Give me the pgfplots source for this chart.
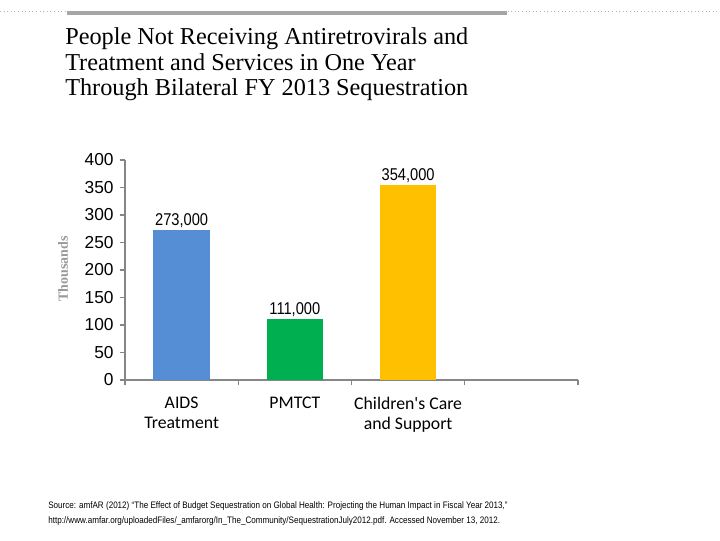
\documentclass[border=0pt]{standalone}
\usepackage{pgfplots}
\pgfplotsset{compat=1.18}
\usepackage{fontspec}
\setmainfont{Liberation Sans}
\newfontfamily\titlefont{Liberation Serif}
\newfontfamily\catfont{Carlito}
\newfontfamily\narrowfont[FakeStretch=0.86]{Liberation Sans}
\definecolor{barblue}{HTML}{558ED5}
\definecolor{bargreen}{HTML}{00B050}
\definecolor{bargold}{HTML}{FFC000}
\definecolor{axisgray}{HTML}{868686}
\begin{document}
\begin{tikzpicture}[x=0.75pt,y=0.75pt]
\path[use as bounding box] (0,0) rectangle (720,540);
\draw[black!30, dotted, line width=0.7pt] (0,528.5) -- (720,528.5);
\fill[black!35] (67,525) rectangle (507,529);
\node[anchor=base west, font=\titlefont\fontsize{18.2}{20}\selectfont, inner sep=0] at (65,495) {People Not Receiving Antiretrovirals and};
\node[anchor=base west, font=\titlefont\fontsize{18.2}{20}\selectfont, inner sep=0] at (65,469.5) {Treatment and Services in One Year};
\node[anchor=base west, font=\titlefont\fontsize{18.2}{20}\selectfont, inner sep=0] at (65,444) {Through Bilateral FY 2013 Sequestration};
\node[rotate=90, font=\titlefont\bfseries\fontsize{10.5}{12}\selectfont, text=black!40] at (63,271) {Thousands};
\begin{axis}[
  at={(93.75pt,120pt)}, anchor=south west,
  scale only axis, width=339.75pt, height=165pt,
  xmin=0, xmax=4, ymin=0, ymax=400,
  axis x line*=bottom, axis y line*=left,
  axis line style={axisgray, line width=0.8pt, -},
  ytick={0,50,...,400}, xtick={0,1,2,3,4}, xticklabels={},
  tick align=outside, major tick length=4pt,
  tick style={axisgray, line width=0.8pt},
  /pgf/number format/assume math mode=true,
  yticklabel style={font=\fontsize{13}{14}\selectfont, xshift=-1pt},
  extra x ticks={0.5,1.5,2.5},
  extra x tick labels={{AIDS\\Treatment},{PMTCT},{Children's Care\\and Support}},
  extra x tick style={major tick length=0pt, tick label style={font=\catfont\fontsize{13.3}{15}\selectfont, align=center, yshift=-9pt}},
  ybar, bar width=0.5, bar shift=0pt,
  nodes near coords, point meta=explicit symbolic,
  nodes near coords style={font=\narrowfont\fontsize{12.8}{14}\selectfont, anchor=south, text=black, inner sep=1.5pt},
  clip=false,
]
\addplot[fill=barblue, draw=none] coordinates {(0.5,273) [273,000]};
\addplot[fill=bargreen, draw=none] coordinates {(1.5,111) [111,000]};
\addplot[fill=bargold, draw=none] coordinates {(2.5,354) [354,000]};
\end{axis}
\node[anchor=base west, font=\narrowfont\fontsize{7.05}{8}\selectfont, inner sep=0] at (48,32) {Source: amfAR (2012) “The Effect of Budget Sequestration on Global Health: Projecting the Human Impact in Fiscal Year 2013,”};
\node[anchor=base west, font=\narrowfont\fontsize{7.05}{8}\selectfont, inner sep=0] at (48,17) {http://www.amfar.org/uploadedFiles/\_amfarorg/In\_The\_Community/SequestrationJuly2012.pdf. Accessed November 13, 2012.};
\end{tikzpicture}
\end{document}
